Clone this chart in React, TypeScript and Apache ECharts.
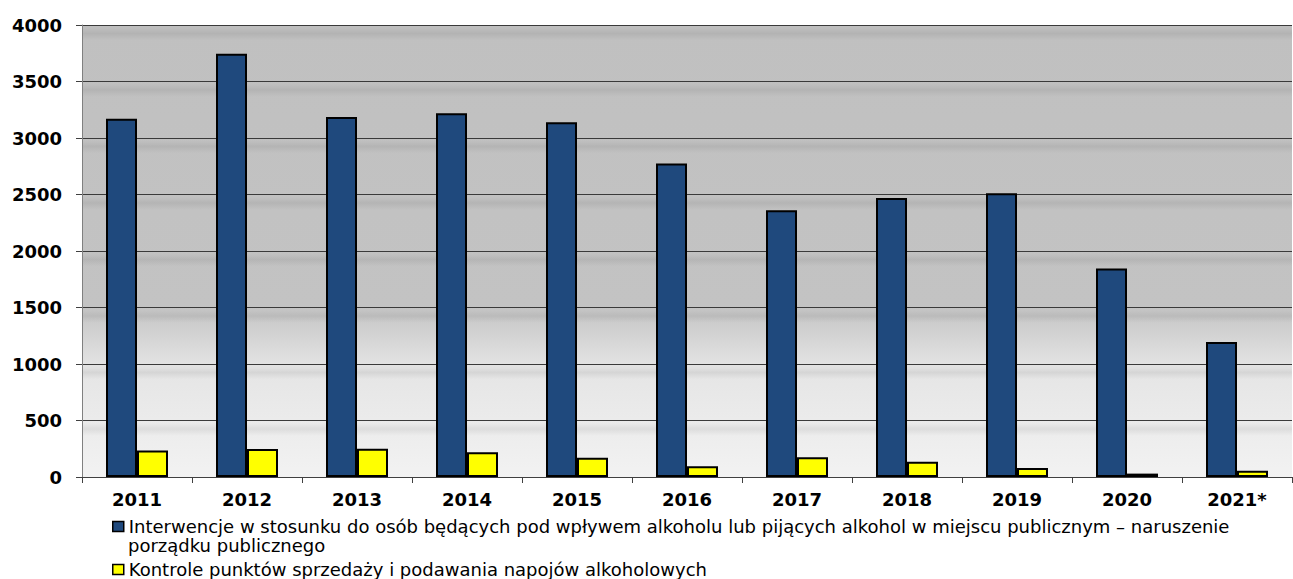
import React, { useEffect, useRef } from "react";
import * as echarts from "echarts";

const categories = ["2011", "2012", "2013", "2014", "2015", "2016", "2017", "2018", "2019", "2020", "2021*"];
const interventions = [3170, 3745, 3185, 3220, 3140, 2775, 2360, 2470, 2510, 1845, 1195];
const inspections = [235, 248, 250, 220, 170, 95, 175, 135, 80, 30, 55];
const seriesNames = [
  "Interwencje w stosunku do osób będących pod wpływem alkoholu lub pijących alkohol w miejscu publicznym – naruszenie porządku publicznego",
  "Kontrole punktów sprzedaży i podawania napojów alkoholowych",
];
const legendFirstLine = "Interwencje w stosunku do osób będących pod wpływem alkoholu lub pijących alkohol w miejscu publicznym – naruszenie";
const legendSecondLine = "porządku publicznego";

export default function App() {
  const ref = useRef<HTMLDivElement>(null);
  useEffect(() => {
    if (!ref.current) return;
    const chart = echarts.init(ref.current, null, { renderer: "svg" });
    const font = "DejaVu Sans";
    const band = new echarts.graphic.LinearGradient(0, 0, 0, 1, [
      { offset: 0, color: "rgba(0,0,0,0)" },
      { offset: 0.05, color: "rgba(0,0,0,0.01)" },
      { offset: 0.15, color: "rgba(0,0,0,0.07)" },
      { offset: 0.27, color: "rgba(0,0,0,0)" },
      { offset: 1, color: "rgba(0,0,0,0)" },
    ]);
    const legendText = { fontFamily: font, fontSize: 18, color: "#000", lineHeight: 19 };
    chart.setOption({
      animation: false,
      backgroundColor: "#ffffff",
      textStyle: { fontFamily: font },
      grid: {
        left: 82,
        right: 1,
        top: 25,
        bottom: 102,
        show: true,
        borderWidth: 0,
        backgroundColor: new echarts.graphic.LinearGradient(0, 0, 0, 1, [
          { offset: 0, color: "#c0c0c0" },
          { offset: 0.62, color: "#c3c3c3" },
          { offset: 0.76, color: "#e5e5e5" },
          { offset: 1, color: "#f2f2f2" },
        ]),
      },
      legend: [
        {
          orient: "vertical",
          left: 112,
          top: 517,
          padding: 0,
          itemWidth: 11,
          itemHeight: 10,
          icon: "rect",
          data: [seriesNames[0]],
          formatter: () => legendFirstLine,
          textStyle: legendText,
          itemStyle: { borderColor: "#000", borderWidth: 1.5 },
        },
        {
          orient: "vertical",
          left: 112,
          top: 560,
          padding: 0,
          itemWidth: 11,
          itemHeight: 10,
          icon: "rect",
          data: [seriesNames[1]],
          textStyle: legendText,
          itemStyle: { borderColor: "#000", borderWidth: 1.5 },
        },
      ],
      graphic: [
        {
          type: "text",
          left: 128,
          top: 536,
          style: { text: legendSecondLine, font: "18px 'DejaVu Sans'", fill: "#000" },
        },
      ],
      xAxis: {
        type: "category",
        data: categories,
        axisLine: { show: true, lineStyle: { color: "#404040", width: 1 } },
        axisTick: { show: true, length: 6, lineStyle: { color: "#404040" } },
        axisLabel: { fontFamily: font, fontWeight: "bold", fontSize: 18, color: "#000", margin: 13 },
      },
      yAxis: {
        type: "value",
        min: 0,
        max: 4000,
        interval: 500,
        axisLine: { show: true, lineStyle: { color: "#808080", width: 1 } },
        axisTick: { show: true, length: 6, lineStyle: { color: "#404040" } },
        axisLabel: {
          fontFamily: font,
          fontWeight: "bold",
          fontSize: 18,
          color: "#000",
          margin: 20,
          formatter: (v: number) => String(v),
        },
        splitArea: { show: true, areaStyle: { color: [band] } },
        splitLine: { show: true, lineStyle: { color: "#3a3a3a", width: 1 } },
      },
      series: [
        {
          name: seriesNames[0],
          type: "bar",
          data: interventions,
          barWidth: 31,
          barGap: "0%",
          itemStyle: { color: "#1f497d", borderColor: "#000", borderWidth: 2 },
        },
        {
          name: seriesNames[1],
          type: "bar",
          data: inspections,
          barWidth: 31,
          barGap: "0%",
          itemStyle: { color: "#ffff00", borderColor: "#000", borderWidth: 2 },
        },
      ],
    });
    return () => chart.dispose();
  }, []);
  return (
    <div style={{ position: "fixed", left: 0, top: 0, width: 1293, height: 579 }}>
      <div ref={ref} style={{ width: 1293, height: 579 }} />
    </div>
  );
}
